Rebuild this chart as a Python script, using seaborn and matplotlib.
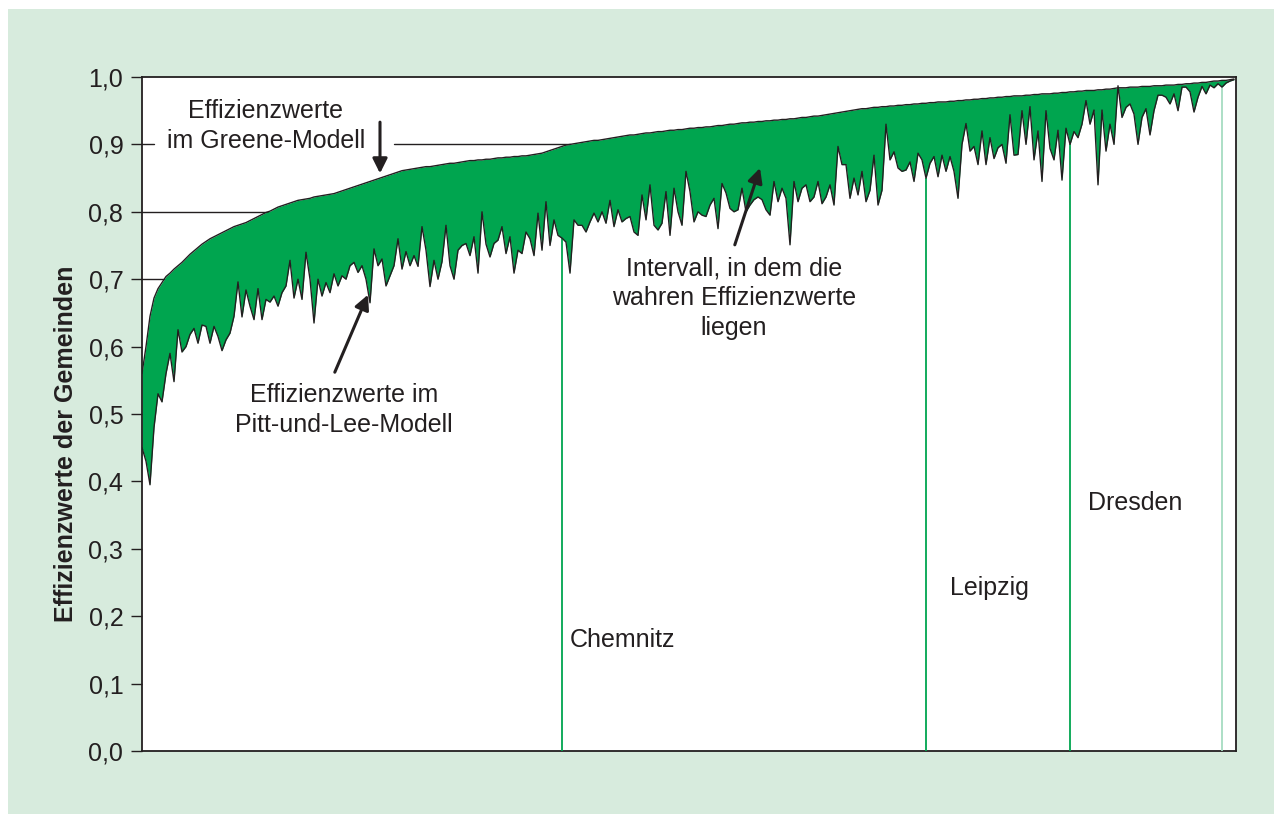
import numpy as np
import matplotlib
matplotlib.use("Agg")
import matplotlib.pyplot as plt
from matplotlib.patches import Rectangle
import seaborn as sns

# Efficiency scores of the municipalities, sorted by the Greene model score
greene = [
    0.560, 0.600, 0.645, 0.672, 0.686, 0.695, 0.704, 0.709, 0.715, 0.720,
    0.725, 0.731, 0.737, 0.742, 0.747, 0.752, 0.756, 0.760, 0.763, 0.766,
    0.769, 0.772, 0.775, 0.778, 0.780, 0.782, 0.784, 0.787, 0.790, 0.793,
    0.796, 0.799, 0.801, 0.804, 0.807, 0.809, 0.811, 0.813, 0.815, 0.817,
    0.818, 0.819, 0.820, 0.822, 0.823, 0.824, 0.825, 0.826, 0.827, 0.829,
    0.831, 0.833, 0.835, 0.837, 0.839, 0.841, 0.843, 0.845, 0.847, 0.849,
    0.851, 0.853, 0.855, 0.857, 0.859, 0.861, 0.862, 0.863, 0.864, 0.865,
    0.866, 0.867, 0.867, 0.868, 0.869, 0.870, 0.871, 0.872, 0.872, 0.873,
    0.874, 0.875, 0.876, 0.876, 0.877, 0.877, 0.878, 0.878, 0.879, 0.880,
    0.880, 0.881, 0.881, 0.882, 0.882, 0.883, 0.883, 0.884, 0.885, 0.886,
    0.887, 0.889, 0.891, 0.893, 0.895, 0.897, 0.899, 0.900, 0.901, 0.902,
    0.903, 0.904, 0.905, 0.906, 0.906, 0.907, 0.908, 0.909, 0.910, 0.911,
    0.912, 0.913, 0.914, 0.914, 0.915, 0.916, 0.917, 0.917, 0.918, 0.919,
    0.919, 0.920, 0.921, 0.921, 0.922, 0.922, 0.923, 0.924, 0.924, 0.925,
    0.925, 0.926, 0.926, 0.927, 0.928, 0.928, 0.929, 0.930, 0.930, 0.931,
    0.932, 0.932, 0.933, 0.933, 0.934, 0.934, 0.935, 0.935, 0.936, 0.936,
    0.937, 0.937, 0.938, 0.938, 0.939, 0.940, 0.940, 0.941, 0.942, 0.942,
    0.943, 0.944, 0.945, 0.946, 0.947, 0.948, 0.949, 0.950, 0.951, 0.952,
    0.953, 0.953, 0.954, 0.955, 0.955, 0.956, 0.956, 0.957, 0.957, 0.958,
    0.958, 0.959, 0.959, 0.960, 0.960, 0.961, 0.961, 0.962, 0.962, 0.963,
    0.963, 0.963, 0.964, 0.964, 0.965, 0.965, 0.966, 0.966, 0.967, 0.967,
    0.968, 0.968, 0.969, 0.969, 0.970, 0.970, 0.971, 0.971, 0.972, 0.972,
    0.972, 0.973, 0.973, 0.974, 0.974, 0.975, 0.975, 0.975, 0.976, 0.976,
    0.977, 0.977, 0.978, 0.978, 0.979, 0.979, 0.980, 0.980, 0.980, 0.981,
    0.981, 0.982, 0.982, 0.983, 0.984, 0.984, 0.984, 0.985, 0.985, 0.985,
    0.986, 0.986, 0.986, 0.987, 0.987, 0.987, 0.988, 0.988, 0.988, 0.989,
    0.989, 0.990, 0.990, 0.991, 0.991, 0.992, 0.992, 0.993, 0.994, 0.994,
    0.995, 0.995, 0.996, 0.997,
]

pitt_lee = [
    0.450, 0.430, 0.395, 0.480, 0.530, 0.518, 0.560, 0.590, 0.548, 0.625,
    0.592, 0.600, 0.618, 0.627, 0.605, 0.632, 0.630, 0.605, 0.630, 0.615,
    0.594, 0.610, 0.620, 0.645, 0.696, 0.644, 0.684, 0.660, 0.640, 0.686,
    0.640, 0.670, 0.666, 0.675, 0.660, 0.680, 0.690, 0.728, 0.672, 0.700,
    0.670, 0.740, 0.700, 0.635, 0.700, 0.675, 0.695, 0.680, 0.708, 0.690,
    0.705, 0.700, 0.720, 0.725, 0.710, 0.720, 0.700, 0.665, 0.745, 0.720,
    0.730, 0.690, 0.705, 0.720, 0.760, 0.715, 0.741, 0.720, 0.735, 0.719,
    0.778, 0.743, 0.689, 0.728, 0.700, 0.726, 0.780, 0.720, 0.700, 0.743,
    0.750, 0.753, 0.735, 0.763, 0.709, 0.800, 0.752, 0.733, 0.753, 0.758,
    0.778, 0.738, 0.763, 0.709, 0.743, 0.738, 0.770, 0.760, 0.735, 0.798,
    0.743, 0.815, 0.750, 0.788, 0.765, 0.761, 0.755, 0.709, 0.788, 0.780,
    0.780, 0.770, 0.785, 0.798, 0.785, 0.800, 0.783, 0.817, 0.778, 0.803,
    0.785, 0.790, 0.793, 0.770, 0.765, 0.825, 0.788, 0.840, 0.780, 0.773,
    0.783, 0.830, 0.765, 0.835, 0.800, 0.780, 0.860, 0.830, 0.785, 0.800,
    0.795, 0.793, 0.810, 0.820, 0.775, 0.842, 0.828, 0.805, 0.800, 0.803,
    0.835, 0.800, 0.810, 0.818, 0.822, 0.818, 0.803, 0.795, 0.845, 0.815,
    0.835, 0.820, 0.751, 0.845, 0.815, 0.835, 0.840, 0.815, 0.822, 0.845,
    0.812, 0.822, 0.840, 0.810, 0.897, 0.870, 0.870, 0.820, 0.850, 0.825,
    0.860, 0.815, 0.832, 0.884, 0.810, 0.832, 0.930, 0.877, 0.889, 0.865,
    0.860, 0.862, 0.874, 0.845, 0.887, 0.877, 0.850, 0.872, 0.882, 0.852,
    0.884, 0.860, 0.882, 0.860, 0.820, 0.900, 0.931, 0.890, 0.897, 0.870,
    0.920, 0.870, 0.910, 0.879, 0.895, 0.900, 0.872, 0.944, 0.884, 0.885,
    0.950, 0.900, 0.956, 0.877, 0.920, 0.845, 0.950, 0.894, 0.877, 0.921,
    0.847, 0.924, 0.900, 0.919, 0.910, 0.930, 0.965, 0.930, 0.951, 0.840,
    0.951, 0.890, 0.930, 0.900, 0.987, 0.940, 0.955, 0.960, 0.945, 0.900,
    0.940, 0.953, 0.914, 0.950, 0.973, 0.973, 0.970, 0.960, 0.975, 0.950,
    0.985, 0.985, 0.978, 0.948, 0.970, 0.986, 0.975, 0.988, 0.984, 0.990,
    0.985, 0.991, 0.994, 0.996,
]

# Rank of the large cities within the sorted municipalities
staedte = ["Chemnitz", "Leipzig", "Dresden"]
staedte_rang = [105, 196, 232]
weitere_stadt_rang = [270]

y_ticks = [0.0, 0.1, 0.2, 0.3, 0.4, 0.5, 0.6, 0.7, 0.8, 0.9, 1.0]
y_ticklabels = ["0,0", "0,1", "0,2", "0,3", "0,4", "0,5", "0,6", "0,7", "0,8", "0,9", "1,0"]

# ---------------------------------------------------------------- styling
sns.set_theme(style="white")
FONT = ["Liberation Sans", "DejaVu Sans"]
plt.rcParams["font.family"] = FONT
INK = "#231f20"
GREEN = "#00a54f"
PANEL = "#d7ebdd"
FS = 18

fig = plt.figure(figsize=(12.74, 8.14), dpi=100, facecolor="white")
panel = Rectangle((8 / 1274, 0), 1, 1 - 9 / 814, transform=fig.transFigure,
                  facecolor=PANEL, edgecolor="none", zorder=-10)
fig.add_artist(panel)
ax = fig.add_axes([142 / 1274, 1 - 751 / 814, 1094 / 1274, 674 / 814])
ax.set_zorder(1)
ax.set_facecolor("white")

gemeinde = np.arange(len(greene))
g = np.array(greene)
p = np.array(pitt_lee)

# interval between both models
ax.fill_between(gemeinde, p, g, color=GREEN, linewidth=0, zorder=2)
sns.lineplot(x=gemeinde, y=g, ax=ax, color=INK, linewidth=1.0, zorder=4)
sns.lineplot(x=gemeinde, y=p, ax=ax, color=INK, linewidth=1.0, zorder=4)

# city columns
ax.vlines(staedte_rang, 0, p[staedte_rang], color=GREEN, linewidth=1.3, zorder=3)
ax.vlines(weitere_stadt_rang, 0, p[weitere_stadt_rang], color="#a6dcc2", linewidth=1.3, zorder=3)

# guide lines from the axis to the Greene curve
for level in (0.7, 0.8):
    x_end = np.interp(level, g, gemeinde)
    ax.plot([0, x_end], [level, level], color=INK, linewidth=1.0, zorder=1)
x_end9 = np.interp(0.9, g, gemeinde)
ax.plot([0, 3.0], [0.9, 0.9], color=INK, linewidth=1.0, zorder=1)
ax.plot([63.0, x_end9], [0.9, 0.9], color=INK, linewidth=1.0, zorder=1)

ax.set_xlim(0, 273.5)
ax.set_ylim(0, 1.0)
ax.set_yticks(y_ticks)
ax.set_yticklabels(y_ticklabels)
ax.set_xticks([])
ax.tick_params(axis="y", direction="out", length=8, width=1.0, color=INK,
               labelsize=FS, labelcolor=INK, pad=5.5, left=True)
for s in ax.spines.values():
    s.set_visible(True)
    s.set_color(INK)
    s.set_linewidth(1.3)

ax.set_ylabel("Effizienzwerte der Gemeinden", fontsize=18, fontweight="bold", color=INK)
ax.yaxis.set_label_coords(-0.0585, 0.456)

# annotations
txt = dict(fontsize=FS, color=INK, ha="center", va="center", linespacing=1.3)
ax.text(31, 0.927, "Effizienzwerte\nim Greene-Modell", **txt)
ax.text(50.5, 0.506, "Effizienzwerte im\nPitt-und-Lee-Modell", **txt)
ax.text(148, 0.672, "Intervall, in dem die\nwahren Effizienzwerte\nliegen", **txt)

arrow = dict(arrowstyle="-|>", color=INK, lw=2.2, mutation_scale=22, shrinkA=0, shrinkB=0)
ax.annotate("", xy=(59.5, 0.857), xytext=(59.5, 0.933), arrowprops=arrow, zorder=5)
ax.annotate("", xy=(56.5, 0.677), xytext=(48.2, 0.562), arrowprops=arrow, zorder=5)
ax.annotate("", xy=(154.5, 0.865), xytext=(148.2, 0.751), arrowprops=arrow, zorder=5)

label_x = [107.0, 202.0, 236.5]
label_y = [0.165, 0.242, 0.368]
for name, lx, ly in zip(staedte, label_x, label_y):
    ax.text(lx, ly, name, fontsize=FS, color=INK, ha="left", va="center")

fig.savefig("out.png", dpi=100, facecolor=fig.get_facecolor())
